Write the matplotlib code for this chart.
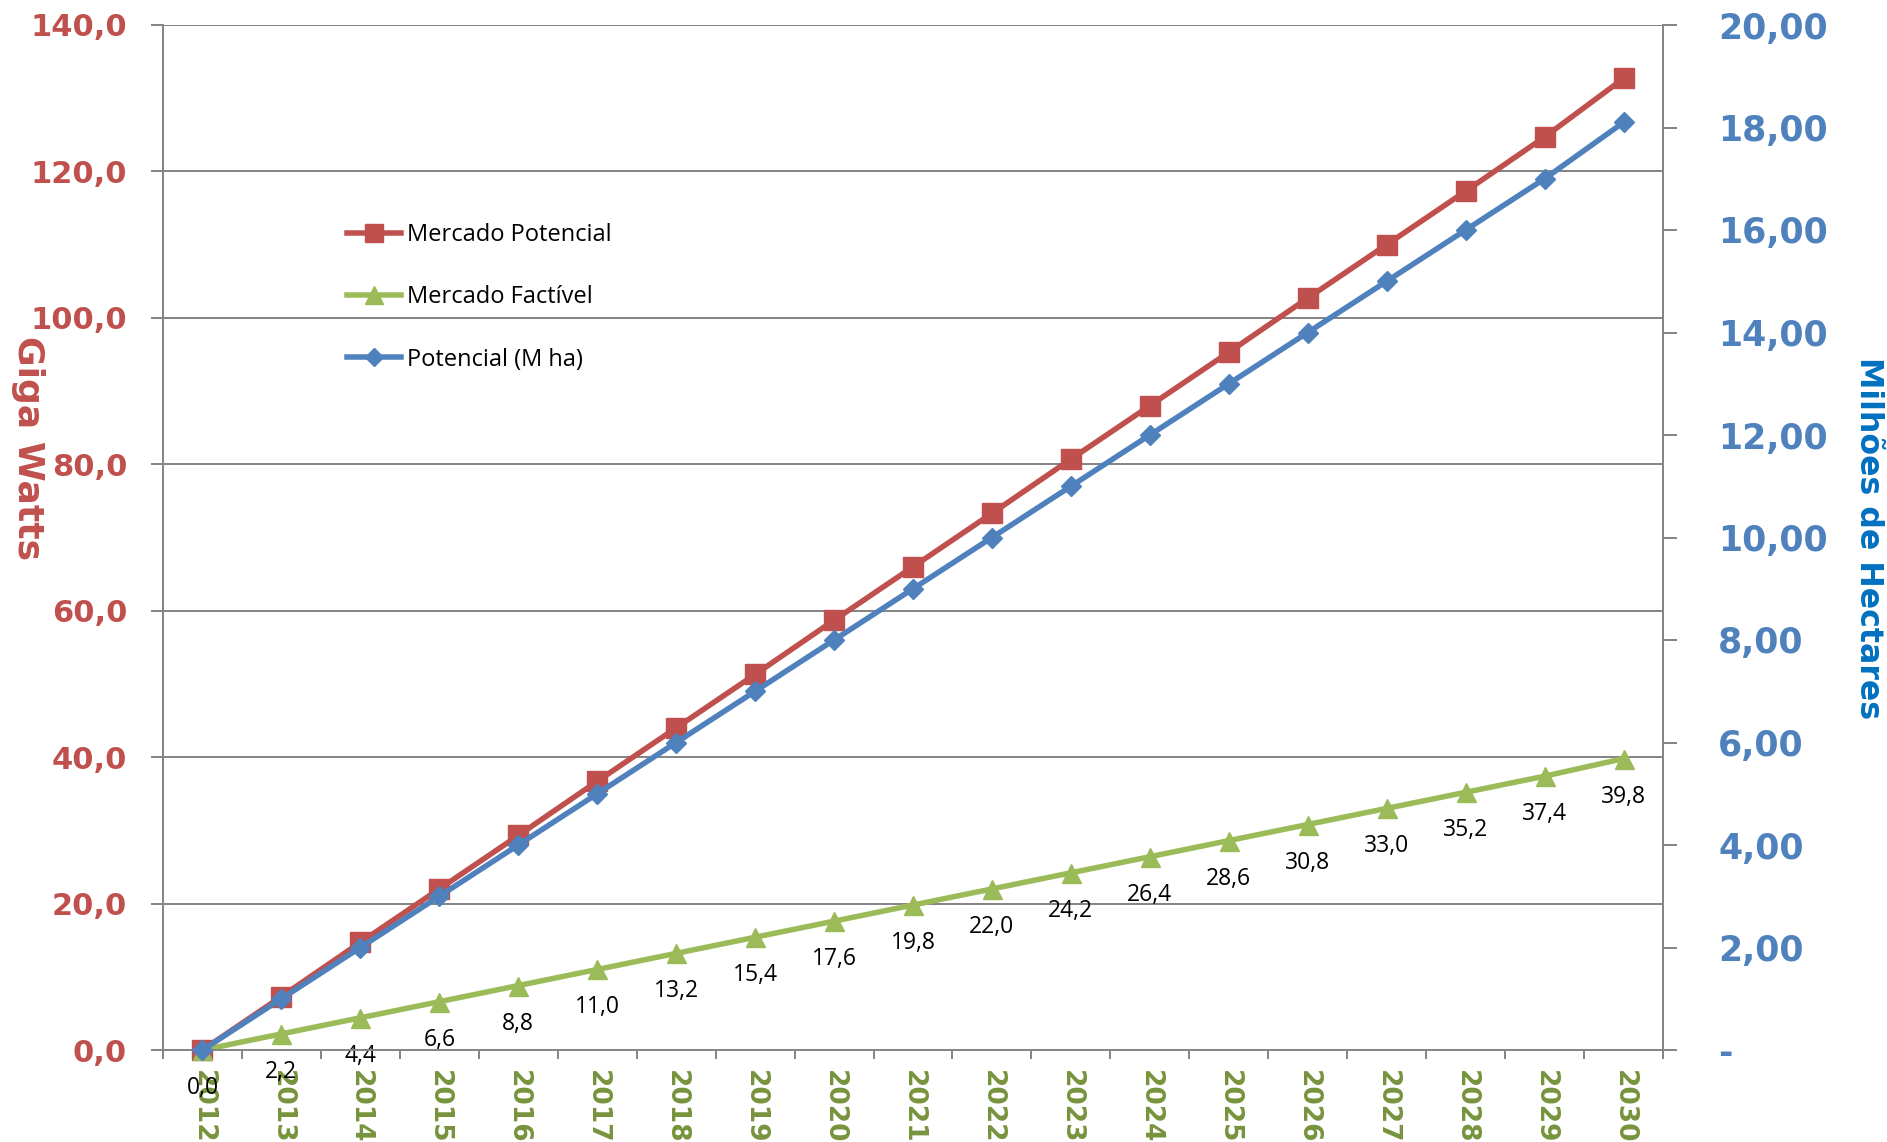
import matplotlib
matplotlib.use("Agg")
import matplotlib.pyplot as plt
from matplotlib.lines import Line2D
from matplotlib.ticker import FixedLocator

# ---- data ----
years = ["2012", "2013", "2014", "2015", "2016", "2017", "2018", "2019", "2020",
         "2021", "2022", "2023", "2024", "2025", "2026", "2027", "2028", "2029", "2030"]
mercado_potencial = [0.0, 7.3, 14.7, 22.0, 29.3, 36.7, 44.0, 51.3, 58.7, 66.0,
                     73.3, 80.7, 88.0, 95.3, 102.7, 110.0, 117.3, 124.7, 132.7]
mercado_factivel = [0.0, 2.2, 4.4, 6.6, 8.8, 11.0, 13.2, 15.4, 17.6, 19.8,
                    22.0, 24.2, 26.4, 28.6, 30.8, 33.0, 35.2, 37.4, 39.8]
potencial_mha = [0, 1, 2, 3, 4, 5, 6, 7, 8, 9, 10, 11, 12, 13, 14, 15, 16, 17, 18.1]

left_ticks = [0, 20, 40, 60, 80, 100, 120, 140]
left_tick_labels = ["0,0", "20,0", "40,0", "60,0", "80,0", "100,0", "120,0", "140,0"]
right_ticks = [0, 2, 4, 6, 8, 10, 12, 14, 16, 18, 20]
right_tick_labels = ["-", "2,00", "4,00", "6,00", "8,00", "10,00", "12,00",
                     "14,00", "16,00", "18,00", "20,00"]

# ---- style ----
RED = "#C0504D"
GREEN = "#9BBB59"
BLUE = "#4F81BD"
YEAR_GREEN = "#77933C"
AXIS_BLUE = "#0070C0"
GRID = "#868686"
PX = 0.72  # points per pixel at 100 dpi

fig = plt.figure(figsize=(18.87, 11.42), dpi=100)
fig.patch.set_facecolor("white")
ax1 = fig.add_axes([163 / 1887, 92 / 1142, 1500 / 1887, 1025 / 1142])
ax2 = ax1.twinx()
ax2.patch.set_visible(False)

x = list(range(len(years)))

line_r, = ax1.plot(x, mercado_potencial, color=RED, lw=5.5 * PX, marker="s",
                   ms=20 * PX, mec=RED, mfc=RED, clip_on=False, zorder=3)
line_g, = ax1.plot(x, mercado_factivel, color=GREEN, lw=5.5 * PX, marker="^",
                   ms=19 * PX, mec=GREEN, mfc=GREEN, clip_on=False, zorder=3)
line_b, = ax2.plot(x, potencial_mha, color=BLUE, lw=5.5 * PX, marker="D",
                   ms=13.5 * PX, mec=BLUE, mfc=BLUE, clip_on=False, zorder=3)

# value labels under the feasible-market points
for xi, v in zip(x, mercado_factivel):
    ax1.annotate(f"{v:.1f}".replace(".", ","), (xi, v), xytext=(0, -38 * PX),
                 textcoords="offset points", ha="center", va="center",
                 fontsize=16.5, family="Open Sans", color="black", zorder=4)

# ---- axes ----
ax1.set_xlim(-0.5, len(years) - 0.5)
ax1.set_ylim(0, 140)
ax2.set_ylim(0, 20)

ax1.set_xticks(x)
ax1.set_xticklabels(years, rotation=270, fontsize=19, fontweight="bold",
                    color=YEAR_GREEN, family="DejaVu Sans")
ax1.xaxis.set_minor_locator(FixedLocator([i - 0.5 for i in range(len(years) + 1)]))
ax1.tick_params(axis="x", which="major", length=0, pad=20 * PX)
ax1.tick_params(axis="x", which="minor", length=9 * PX, width=2 * PX,
                color=GRID, direction="out")

ax1.set_yticks(left_ticks)
ax1.set_yticklabels(left_tick_labels, fontsize=22, fontweight="bold", color=RED,
                    family="DejaVu Sans")
ax1.tick_params(axis="y", length=12 * PX, width=2 * PX, color=GRID,
                direction="out", pad=24 * PX)

ax2.set_yticks(right_ticks)
ax2.set_yticklabels(right_tick_labels, fontsize=25, fontweight="bold", color=BLUE,
                    family="DejaVu Sans")
ax2.tick_params(axis="y", length=14 * PX, width=2 * PX, color=GRID,
                direction="out", pad=41 * PX)

ax1.grid(axis="y", color=GRID, lw=2 * PX)
ax1.set_axisbelow(True)

for ax in (ax1, ax2):
    ax.spines["top"].set_visible(False)
    for s in ("left", "right", "bottom"):
        ax.spines[s].set_color(GRID)
        ax.spines[s].set_linewidth(2 * PX)

# ---- axis titles ----
fig.text(28 / 1887, 1 - 448 / 1142, "Giga Watts", rotation=270, ha="center",
         va="center", fontsize=26, fontweight="bold", color=RED,
         family="DejaVu Sans")
fig.text(1868 / 1887, 1 - 538 / 1142, "Milhões de Hectares", rotation=270,
         ha="center", va="center", fontsize=22.8, fontweight="bold",
         color=AXIS_BLUE, family="DejaVu Sans")

# ---- legend ----
handles = [
    Line2D([], [], color=RED, lw=5.5 * PX, marker="s", ms=18 * PX, mfc=RED, mec=RED),
    Line2D([], [], color=GREEN, lw=5.5 * PX, marker="^", ms=18 * PX, mfc=GREEN, mec=GREEN),
    Line2D([], [], color=BLUE, lw=5.5 * PX, marker="D", ms=13 * PX, mfc=BLUE, mec=BLUE),
]
labels = ["Mercado Potencial", "Mercado Factível", "Potencial (M ha)"]
leg = ax2.legend(handles, labels, loc="upper left",
                 bbox_to_anchor=(347 / 1887, 1 - 223 / 1142),
                 bbox_transform=fig.transFigure, frameon=False,
                 prop={"family": "Open Sans", "size": 17},
                 handlelength=2.3, handletextpad=0.25, labelspacing=1.62,
                 borderpad=0, borderaxespad=0)

fig.savefig("out.png", dpi=100, facecolor="white")
